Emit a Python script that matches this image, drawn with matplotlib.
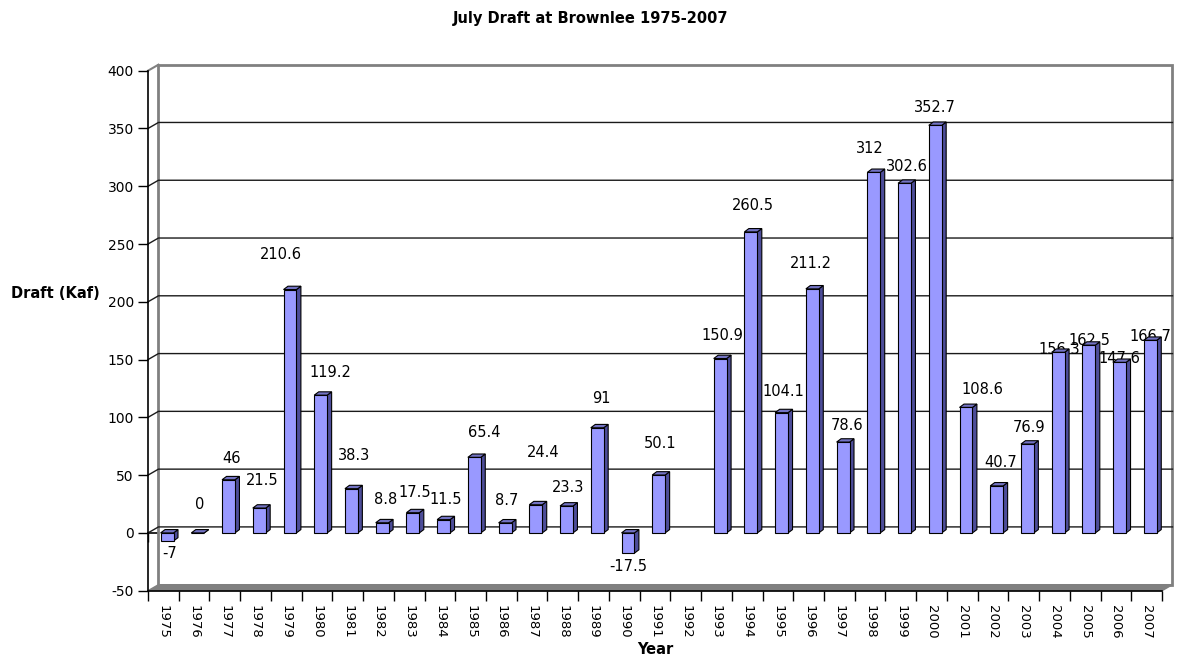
import numpy as np
import matplotlib
matplotlib.use('Agg')
import matplotlib.pyplot as plt
from matplotlib.patches import Polygon

plt.rcParams['axes.unicode_minus'] = False

years = list(range(1975, 2008))
draft = [-7, 0, 46, 21.5, 210.6, 119.2, 38.3, 8.8, 17.5, 11.5, 65.4, 8.7, 24.4, 23.3, 91,
         -17.5, 50.1, np.nan, 150.9, 260.5, 104.1, 211.2, 78.6, 312, 302.6, 352.7, 108.6,
         40.7, 76.9, 156.3, 162.5, 147.6, 166.7]
yticks = list(range(-50, 401, 50))

# label nudges in pixels (right, down) - excel puts 3d labels a bit everywhere
lab_dx = [3, 2, 3, 3, -9, 10, 3, 3, 2, 2, 10, 2, 7, 2, 4, 0, 1, 0, 2, 2, 2, -1, 4, -4, 2, 0, 16,
          4, 2, 1, 1, 0, 0]
lab_dy = [12, -28, -21, -28, -35, -23, -33, -23, -20, -20, -25, -22, -52, -18, -29, 13, -32, 0,
          -23, -26, -21, -25, -17, -24, -17, -18, -18, -23, -17, -3, -5, -4, -4]

fig = plt.figure(figsize=(11.77, 6.58), dpi=100)
ax = fig.add_axes([148/1177, (658-590.7)/658, 1014/1177, 520/658])
n = len(years)
ax.set_xlim(-0.5, n-0.5)
ax.set_ylim(-50, 400)

# depth of the back wall and of the bars, in data units
DX, DY = 0.34, 5.2
BDX, BDY = 0.146, 2.9
off, w = 0.12, 0.42
x0, x1 = -0.5, n-0.5

# back wall + gridlines
wall = Polygon([(x0+DX, -50+DY), (x1+DX, -50+DY), (x1+DX, 400+DY), (x0+DX, 400+DY)],
               closed=True, facecolor='white', edgecolor='#808080', lw=2, zorder=0.5, clip_on=False)
ax.add_patch(wall)
for yv in yticks[1:-1]:
    ax.plot([x0, x0+DX, x1+DX], [yv, yv+DY, yv+DY], color='#1a1a1a', lw=1, zorder=1, clip_on=False)
ax.plot([x0, x0+DX], [400, 400+DY], color='#808080', lw=1.5, zorder=1, clip_on=False)

# floor
floor = Polygon([(x0, -50), (x1, -50), (x1+DX, -50+DY), (x0+DX, -50+DY)], closed=True,
                facecolor='#808080', edgecolor='#808080', lw=1, zorder=1.2, clip_on=False)
ax.add_patch(floor)

# bars
xs = np.arange(n) + off
vals = np.array(draft, dtype=float)
ok = ~np.isnan(vals)
for i, v in enumerate(vals):
    if not ok[i]:
        continue
    top = max(v, 0)
    bot = min(v, 0)
    xl, xr = xs[i]-w/2, xs[i]+w/2
    side = Polygon([(xr, bot), (xr+BDX, bot+BDY), (xr+BDX, top+BDY), (xr, top)], closed=True,
                   facecolor='#4d4d99', edgecolor='black', lw=0.8, zorder=3)
    cap = Polygon([(xl, top), (xl+BDX, top+BDY), (xr+BDX, top+BDY), (xr, top)], closed=True,
                  facecolor='#7373c4', edgecolor='black', lw=0.8, zorder=3)
    ax.add_patch(side)
    ax.add_patch(cap)
ax.bar(xs[ok], vals[ok], width=w, color='#9999ff', edgecolor='black', lw=0.8, zorder=3.1)

# value labels
for i, v in enumerate(vals):
    if not ok[i]:
        continue
    ax.annotate(f'{v:g}', xy=(xs[i], v), xytext=(lab_dx[i], -lab_dy[i]), textcoords='offset pixels',
                ha='center', va='center', fontsize=10.5, color='black', zorder=2.5)

# axes
for s in ['top', 'right']:
    ax.spines[s].set_visible(False)
ax.spines['left'].set_linewidth(1.2)
ax.spines['bottom'].set_linewidth(1.2)
ax.spines['left'].set_zorder(4)
ax.set_yticks(yticks)
ax.tick_params(axis='y', length=7.2, width=1, pad=3, labelsize=10)
ax.set_xticks(np.arange(n))
ax.set_xticklabels([str(y) for y in years], rotation=270, fontsize=9.5, va='top', ha='center')
ax.set_xticks(np.arange(n+1)-0.5, minor=True)
ax.tick_params(axis='x', which='major', length=0, pad=10)
ax.tick_params(axis='x', which='minor', length=7.2, width=1)

zero = ax.secondary_xaxis(50/450)
zero.set_xticks(np.arange(n+1)-0.5)
zero.tick_params(length=6.5, width=1, labelbottom=False)
zero.spines['bottom'].set_linewidth(1.2)

fig.text(591/1177, 1-18/658, 'July Draft at Brownlee 1975-2007', ha='center', va='center',
         fontsize=10.5, fontweight='bold')
fig.text(55/1177, 1-294/658, 'Draft (Kaf)', ha='center', va='center', fontsize=10.5, fontweight='bold')
fig.text(655/1177, 1-649/658, 'Year', ha='center', va='center', fontsize=10.5, fontweight='bold')

fig.savefig('out.png', dpi=100)
